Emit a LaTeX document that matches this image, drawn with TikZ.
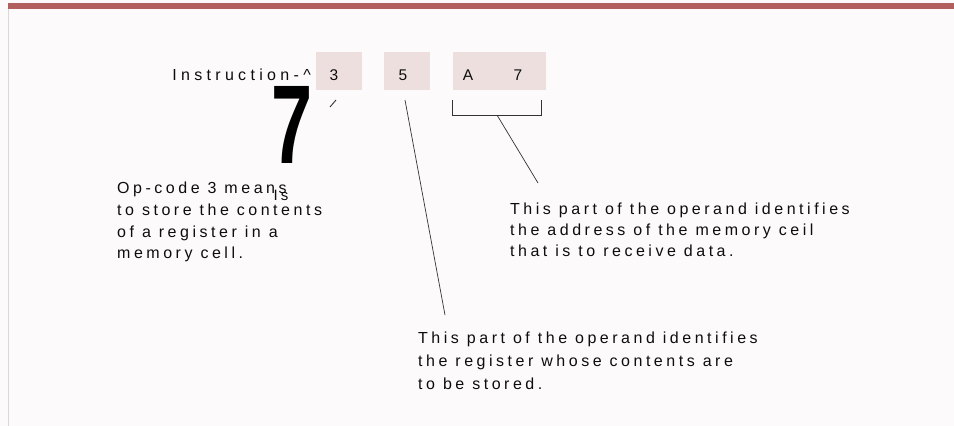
\documentclass[tikz,border=0pt]{standalone}
\usepackage{fontspec}
\setmainfont{Liberation Sans}
\newfontfamily\spaced[LetterSpace=22]{Liberation Sans}
\newfontfamily\spacedi[LetterSpace=27]{Liberation Sans}
\newfontfamily\boldsans{Liberation Sans}
\definecolor{bg}{HTML}{FCFAFA}
\definecolor{bar}{HTML}{B2605E}
\definecolor{cell}{HTML}{EDDFDE}
\definecolor{edge}{HTML}{DDD7D7}
\tikzset{
  label text/.style={inner sep=0pt, anchor=north west, align=left,
    font={\spaced\fontsize{16}{21}\selectfont}, text=black!95},
  cellbox/.style={fill=cell, draw=none, inner sep=0pt},
  cellchar/.style={inner sep=0pt, font={\spaced\fontsize{15.5}{18}\selectfont}, text=black!95},
  leader/.style={draw=black!80, line width=0.7pt},
}
\begin{document}
\begin{tikzpicture}[x=1pt,y=-1pt]
\useasboundingbox (0,0) rectangle (954,426);
\fill[bg] (0,0) rectangle (954,426);
% frame
\fill[bar] (8,3) rectangle (954,9);
\draw[edge, line width=0.8pt] (8,9) -- (8,426);
% instruction cells
\node[cellbox, minimum width=46pt, minimum height=38pt, anchor=north west] (c3) at (316,52) {};
\node[cellbox, minimum width=46pt, minimum height=38pt, anchor=north west] (c5) at (384,52) {};
\node[cellbox, minimum width=93pt, minimum height=38pt, anchor=north west] (cA7) at (453,52) {};
\node[cellchar, anchor=base] (t3) at (334,80.5) {3};
\node[cellchar, anchor=base] (t5) at (403,80.5) {5};
\node[cellchar, anchor=base] (tA) at (468,80.5) {A};
\node[cellchar, anchor=base] (t7) at (518,80.5) {7};
\node[cellchar, anchor=base east, font={\spacedi\fontsize{16}{18}\selectfont}] (instr) at (311,80.5) {Instruction-\char`\^};
% big 7
\node[inner sep=0pt, anchor=north, xscale=0.66, font={\boldsans\bfseries\fontsize{112}{112}\selectfont}] (big) at (292,86) {7};
% tick under 3
\coordinate (tickA) at (330,107);
\coordinate (tickB) at (336,100);
\draw[leader, line width=0.9pt] (tickA) -- (tickB);
% bracket under A 7
\coordinate (brL) at (452,100);
\coordinate (brR) at (541,100);
\coordinate (brM) at (497,115);
\draw[leader] (brL) -- (452,115) -- (541,115) -- (brR);
% texts
\node[label text, font={\spaced\fontsize{16}{21.7}\selectfont}] (opcode) at (117,182) {Op-code 3 means\\to store the contents\\of a register in a\\memory cell.};
\node[inner sep=0pt, font={\spaced\fontsize{15}{18}\selectfont}, text=black!95] (is) at (281,195) {Is};
\node[label text] (addr) at (510,203) {This part of the operand identifies\\the address of the memory ceil\\that is to receive data.};
\node[label text, font={\spaced\fontsize{16}{23}\selectfont}] (reg) at (418,332) {This part of the operand identifies\\the register whose contents are\\to be stored.};
% leaders
\coordinate (l5top) at (405,100);
\coordinate (l5bot) at (445,315);
\draw[leader] (l5top) -- (l5bot);
\coordinate (laddr) at (538,183);
\draw[leader] (brM) -- (laddr);
\end{tikzpicture}
\end{document}
